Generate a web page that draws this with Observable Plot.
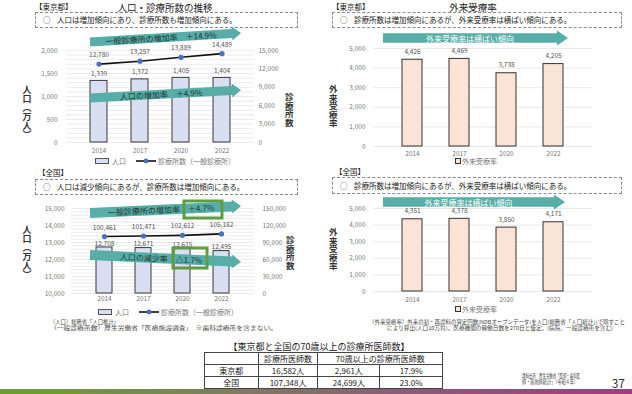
<!DOCTYPE html>
<html><head><meta charset="utf-8">
<script src="https://cdn.jsdelivr.net/npm/d3@7"></script>
<script src="https://cdn.jsdelivr.net/npm/@observablehq/plot@0.6"></script>
<style>
html,body{margin:0;padding:0;background:#fff;}
#page{position:relative;width:632px;height:394px;overflow:hidden;font-family:'Noto Sans CJK JP','Noto Sans',sans-serif;color:#222;}
.abs{position:absolute;white-space:nowrap;line-height:1;}
.box{position:absolute;border:1px dashed #8a8a8a;box-sizing:border-box;}
.vt{position:absolute;writing-mode:vertical-rl;line-height:1;font-weight:bold;color:#333;}
table.t{position:absolute;border-collapse:collapse;font-size:8px;color:#222;}
table.t td{border:1px solid #444;height:11px;padding:0;text-align:center;line-height:1;}
</style></head>
<body><div id="page"></div>
<script>
// ---------- data ----------
const years = ["2014", "2017", "2020", "2022"];
const tokyoPopulation = [1339, 1372, 1405, 1404];          // 万人
const tokyoClinics = [12780, 13257, 13889, 14489];         // 一般診療所
const japanPopulation = [12708, 12671, 12615, 12495];      // 万人
const japanClinics = [100461, 101471, 102612, 105182];
const tokyoOutpatient = [4426, 4469, 3738, 4205];          // 外来受療率
const japanOutpatient = [4351, 4378, 3850, 4171];
const tableHeader = ["", "診療所医師数", "70歳以上の診療所医師数"];
const tableRows = [
  ["東京都", "16,582人", "2,961人", "17.9%"],
  ["全国", "107,348人", "24,699人", "23.0%"]
];

const FONT = "'Noto Sans CJK JP','Noto Sans',sans-serif";
const fmt = d3.format(",");
const page = document.getElementById("page");
const rows = vals => years.map((y, i) => ({year: y, value: vals[i]}));

function place(el, left, top) {
  el.style.position = "absolute"; el.style.left = left + "px"; el.style.top = top + "px";
  page.appendChild(el);
}
function txt(x, y, s, o = {}) {
  const d = document.createElement("div");
  d.className = "abs";
  d.textContent = s;
  d.style.left = x + "px"; d.style.top = y + "px";
  d.style.fontSize = (o.size || 8) + "px";
  d.style.color = o.color || "#222";
  if (o.weight) d.style.fontWeight = o.weight;
  page.appendChild(d);
  let tr = o.anchor === "middle" ? "translate(-50%,-50%)" : o.anchor === "end" ? "translate(-100%,-50%)" : "translate(0,-50%)";
  if (o.fit) {
    const w = d.getBoundingClientRect().width;
    d.style.transformOrigin = o.anchor === "middle" ? "50% 50%" : "0 50%";
    tr += ` scaleX(${o.fit / w})`;
  }
  d.style.transform = tr;
  return d;
}
function vtxt(cx, cy, s, size) {
  const d = document.createElement("div");
  d.className = "vt"; d.textContent = s;
  d.style.fontSize = size + "px";
  d.style.left = cx + "px"; d.style.top = cy + "px";
  d.style.transform = "translate(-50%,-50%)";
  page.appendChild(d);
}
function box(x, y, w, h) {
  const d = document.createElement("div");
  d.className = "box";
  Object.assign(d.style, {left: x + "px", top: y + "px", width: w + "px", height: h + "px"});
  page.appendChild(d);
}

const baseStyle = {fontFamily: FONT, fontSize: "6.5px", background: "transparent", overflow: "visible", color: "#777"};

// ---------- top-left: 東京都 人口・診療所数 ----------
{
  const k = 2000 / 15000;
  const pop = rows(tokyoPopulation), cl = rows(tokyoClinics);
  const p = Plot.plot({
    width: 320, height: 160, marginTop: 50, marginBottom: 18, marginLeft: 66, marginRight: 66,
    style: baseStyle,
    x: {domain: years, padding: 0.58, label: null},
    y: {domain: [0, 2000], label: null},
    marks: [
      Plot.gridY(d3.range(0, 2001, 100), {stroke: "#e2e2e2", strokeOpacity: 1, strokeWidth: 0.7}),
      Plot.axisY(d3.range(0, 2001, 500), {anchor: "left", tickSize: 0, tickPadding: 9, tickFormat: d => fmt(d), label: null}),
      Plot.axisY(d3.range(0, 15001, 3000).map(v => v * k), {anchor: "right", tickSize: 0, tickPadding: 4, tickFormat: d => fmt(Math.round(d / k)), label: null}),
      Plot.axisX({tickSize: 0, tickPadding: 6, label: null}),
      Plot.barY(pop, {x: "year", y: "value", fill: "#d9def2", stroke: "#3a3a3a", strokeWidth: 1}),
      Plot.text(pop, {x: "year", y: "value", text: d => fmt(d.value), dy: -7, fill: "#555"}),
      Plot.line(cl, {x: "year", y: d => d.value * k, stroke: "#111", strokeWidth: 1.6}),
      Plot.dot(cl, {x: "year", y: d => d.value * k, r: 2.6, fill: "#4a6fc4", stroke: "none"}),
      Plot.text(cl, {x: "year", y: d => d.value * k, text: d => fmt(d.value), dy: -9, fill: "#555"})
    ]
  });
  place(p, 0, 0);
}

// ---------- bottom-left: 全国 人口・診療所数 ----------
{
  const k = 5000 / 150000;
  const pop = rows(japanPopulation), cl = rows(japanClinics);
  const p = Plot.plot({
    width: 320, height: 150, marginTop: 48, marginBottom: 17, marginLeft: 71, marginRight: 66,
    style: baseStyle,
    x: {domain: years, padding: 0.6, label: null},
    y: {domain: [10000, 15000], label: null},
    marks: [
      Plot.gridY(d3.range(10000, 15001, 200), {stroke: "#e2e2e2", strokeOpacity: 1, strokeWidth: 0.7}),
      Plot.axisY(d3.range(10000, 15001, 1000), {anchor: "left", tickSize: 0, tickPadding: 7, tickFormat: d => fmt(d), label: null}),
      Plot.axisY(d3.range(0, 150001, 30000).map(v => 10000 + v * k), {anchor: "right", tickSize: 0, tickPadding: 8, tickFormat: d => fmt(Math.round((d - 10000) / k)), label: null}),
      Plot.axisX({tickSize: 0, tickPadding: 3, label: null}),
      Plot.barY(pop, {x: "year", y1: () => 10000, y2: "value", fill: "#d9def2", stroke: "#3a3a3a", strokeWidth: 1}),
      Plot.text(pop, {x: "year", y: "value", text: d => fmt(d.value), dy: -4, fill: "#555"}),
      Plot.line(cl, {x: "year", y: d => 10000 + d.value * k, stroke: "#111", strokeWidth: 1.6}),
      Plot.dot(cl, {x: "year", y: d => 10000 + d.value * k, r: 2.6, fill: "#4a6fc4", stroke: "none"}),
      Plot.text(cl, {x: "year", y: d => 10000 + d.value * k, text: d => fmt(d.value), dy: -9, fill: "#555"})
    ]
  });
  place(p, 0, 160);
}

// ---------- right: 外来受療率 ----------
function outpatient(vals, top, height, marginBottom, pad) {
  const d = rows(vals);
  const p = Plot.plot({
    width: 312, height, marginTop: 48, marginBottom, marginLeft: 53, marginRight: 40,
    style: baseStyle,
    x: {domain: years, padding: 0.58, label: null},
    y: {domain: [0, 5000], label: null},
    marks: [
      Plot.gridY(d3.range(0, 5001, 1000), {stroke: "#e2e2e2", strokeOpacity: 1, strokeWidth: 0.8}),
      Plot.axisY(d3.range(0, 5001, 1000), {anchor: "left", tickSize: 0, tickPadding: 8, tickFormat: v => fmt(v), label: null}),
      Plot.axisX({tickSize: 0, tickPadding: pad, label: null}),
      Plot.barY(d, {x: "year", y: "value", fill: "#fbe4d5", stroke: "#333", strokeWidth: 1}),
      Plot.text(d, {x: "year", y: "value", text: v => fmt(v.value), dy: -8, fill: "#555"})
    ]
  });
  place(p, 320, top);
}
outpatient(tokyoOutpatient, 0, 160, 14, 5);
outpatient(japanOutpatient, 160, 150, 19, 6);

// ---------- headers, boxes ----------
txt(35, 7, "【東京都】", {size: 7.5});
txt(165, 7.5, "人口・診療所数の推移", {size: 9.5, anchor: "middle"});
box(35, 12, 263, 16);
txt(43, 20, "○", {size: 7.5});
txt(57, 20, "人口は増加傾向にあり、診療所数も増加傾向にある。", {size: 7.5});

txt(38, 173, "【全国】", {size: 7.5});
box(35, 179, 263, 16);
txt(43, 187, "○", {size: 7.5});
txt(57, 187, "人口は減少傾向にあるが、診療所数は増加傾向にある。", {size: 7.5});

txt(332, 7, "【東京都】", {size: 7.5});
txt(473, 7.5, "外来受療率", {size: 9.5, anchor: "middle"});
box(332, 12, 290, 16);
txt(340, 20, "○", {size: 7.5});
txt(354, 20, "診療所数は増加傾向にあるが、外来受療率は横ばい傾向にある。", {size: 7.5});

txt(335, 172, "【全国】", {size: 7.5});
box(332, 177, 290, 17);
txt(340, 185.5, "○", {size: 7.5});
txt(354, 185.5, "診療所数は増加傾向にあるが、外来受療率は横ばい傾向にある。", {size: 7.5});

// axis titles
vtxt(27, 112, "人口（万人）", 9);
vtxt(289, 110, "診療所数", 8.5);
vtxt(27, 252, "人口（万人）", 9);
vtxt(290, 253, "診療所数", 8.5);
vtxt(333, 106, "外来受療率", 8.5);
vtxt(333, 249, "外来受療率", 8.5);

// ---------- legends ----------
function legendPop(x, y) {
  const s = document.createElement("div");
  Object.assign(s.style, {position: "absolute", left: x + "px", top: (y - 3) + "px", width: "14px", height: "6px", background: "#d9def2", border: "1px solid #555", boxSizing: "border-box"});
  page.appendChild(s);
  txt(x + 17, y, "人口", {size: 7, color: "#777"});
  const ns = "http://www.w3.org/2000/svg";
  const svg = document.createElementNS(ns, "svg");
  svg.setAttribute("width", 20); svg.setAttribute("height", 8);
  svg.innerHTML = '<line x1="0" y1="4" x2="20" y2="4" stroke="#111" stroke-width="1.6"/><circle cx="10" cy="4" r="2.4" fill="#4a6fc4"/>';
  place(svg, x + 41, y - 4);
  txt(x + 63, y, "診療所数（一般診療所）", {size: 7, color: "#777"});
}
legendPop(95, 161);
legendPop(98, 312);
function legendOut(x, y) {
  const s = document.createElement("div");
  Object.assign(s.style, {position: "absolute", left: x + "px", top: (y - 3) + "px", width: "6px", height: "6px", background: "#fbe4d5", border: "1.2px solid #333", boxSizing: "border-box"});
  page.appendChild(s);
  txt(x + 7, y, "外来受療率", {size: 7, color: "#777"});
}
legendOut(455, 161);
legendOut(455, 309);

// ---------- block arrows (annotations) ----------
const ns = "http://www.w3.org/2000/svg";
const ov = document.createElementNS(ns, "svg");
ov.setAttribute("width", 632); ov.setAttribute("height", 394);
ov.style.position = "absolute"; ov.style.left = "0"; ov.style.top = "0";
page.appendChild(ov);
function arrow(x0, y0, x1, y1, label, textColor, t = 9, hl = 9, hw = 14) {
  const L = Math.hypot(x1 - x0, y1 - y0), ux = (x1 - x0) / L, uy = (y1 - y0) / L, nx = -uy, ny = ux;
  const mx = x1 - ux * hl, my = y1 - uy * hl;
  const P = [[x0 + nx * t / 2, y0 + ny * t / 2], [mx + nx * t / 2, my + ny * t / 2], [mx + nx * hw / 2, my + ny * hw / 2], [x1, y1],
             [mx - nx * hw / 2, my - ny * hw / 2], [mx - nx * t / 2, my - ny * t / 2], [x0 - nx * t / 2, y0 - ny * t / 2]];
  const poly = document.createElementNS(ns, "polygon");
  poly.setAttribute("points", P.map(p => p.join(",")).join(" "));
  poly.setAttribute("fill", "#55aea8");
  ov.appendChild(poly);
  const cx = (x0 + mx) / 2, cy = (y0 + my) / 2, ang = Math.atan2(uy, ux) * 180 / Math.PI;
  const tx = document.createElementNS(ns, "text");
  tx.setAttribute("transform", `translate(${cx},${cy}) rotate(${ang})`);
  tx.setAttribute("text-anchor", "middle"); tx.setAttribute("dominant-baseline", "central");
  tx.setAttribute("font-family", FONT); tx.setAttribute("font-size", "8");
  tx.setAttribute("fill", textColor);
  tx.setAttribute("xml:space", "preserve");
  tx.textContent = label;
  ov.appendChild(tx);
}
arrow(90, 42, 241, 33, "一般診療所の増加率　＋14.9%", "#1d3533");
arrow(90, 98, 241, 90, "人口の増加率　＋4.9%", "#1d3533");
arrow(90, 213, 241, 206, "一般診療所の増加率　＋4.7%", "#1d3533", 10);
arrow(90, 255, 241, 262, "人口の減少率　△1.7%", "#1d3533", 10);
arrow(383, 38, 568, 38, "外来受療率は横ばい傾向", "#ffffff", 9.5, 11, 15);
arrow(383, 202, 565, 202, "外来受療率は横ばい傾向", "#ffffff", 9.5, 11, 15);
// green highlight boxes
for (const [x, y, w, h] of [[184, 201, 38, 17], [173, 248, 34, 20]]) {
  const r = document.createElementNS(ns, "rect");
  r.setAttribute("x", x); r.setAttribute("y", y); r.setAttribute("width", w); r.setAttribute("height", h);
  r.setAttribute("fill", "none"); r.setAttribute("stroke", "#5f9e3f"); r.setAttribute("stroke-width", 3);
  ov.appendChild(r);
}

// ---------- footnotes ----------
txt(50, 322.5, "（人口）総務省「人口推計」", {size: 5.3, color: "#444"});
txt(50, 329, "（一般診療所数）厚生労働省「医療施設調査」　※歯科診療所を含まない。", {size: 5.3, color: "#444", fit: 227});
txt(497, 322.5, "（外来受療率）外来の初・再診料の算定回数(NDBオープンデータ)を人口(総務省「人口統計」)で除すこと", {size: 5.3, color: "#444", anchor: "middle", fit: 256});
txt(500, 329, "により算出(人口10万対)。医療機関の稼働日数を270日と仮定。(病院、一般診療所を含む)", {size: 5.3, color: "#444", anchor: "middle", fit: 226});

// ---------- table ----------
txt(319, 345.5, "【東京都と全国の70歳以上の診療所医師数】", {size: 9, anchor: "middle"});
{
  const t = document.createElement("table");
  t.className = "t";
  const widths = [54, 60, 62, 63];
  let html = "<colgroup>" + widths.map(w => `<col style="width:${w}px">`).join("") + "</colgroup>";
  html += `<tr><td>${tableHeader[0]}</td><td>${tableHeader[1]}</td><td colspan="2">${tableHeader[2]}</td></tr>`;
  for (const r of tableRows) html += "<tr>" + r.map(c => `<td>${c}</td>`).join("") + "</tr>";
  t.innerHTML = html;
  t.style.width = "239px";
  place(t, 204, 352);
}
txt(522, 376.5, "資料出所：厚生労働省「医師・歯科医", {size: 5.5, color: "#444", fit: 58});
txt(522, 383, "師・薬剤師統計」（令和４年）", {size: 5.5, color: "#444", fit: 56});
txt(625, 383, "37", {size: 12, color: "#333", anchor: "end"});

// bottom band
{
  const b = document.createElement("div");
  Object.assign(b.style, {position: "absolute", left: "0", top: "389px", width: "632px", height: "5px",
    background: "linear-gradient(90deg,#6e9b3a 0%,#6e9b3a 8%,#7c7f5c 35%,#8a5f74 60%,#9b3d86 100%)"});
  page.appendChild(b);
}
</script></body></html>
